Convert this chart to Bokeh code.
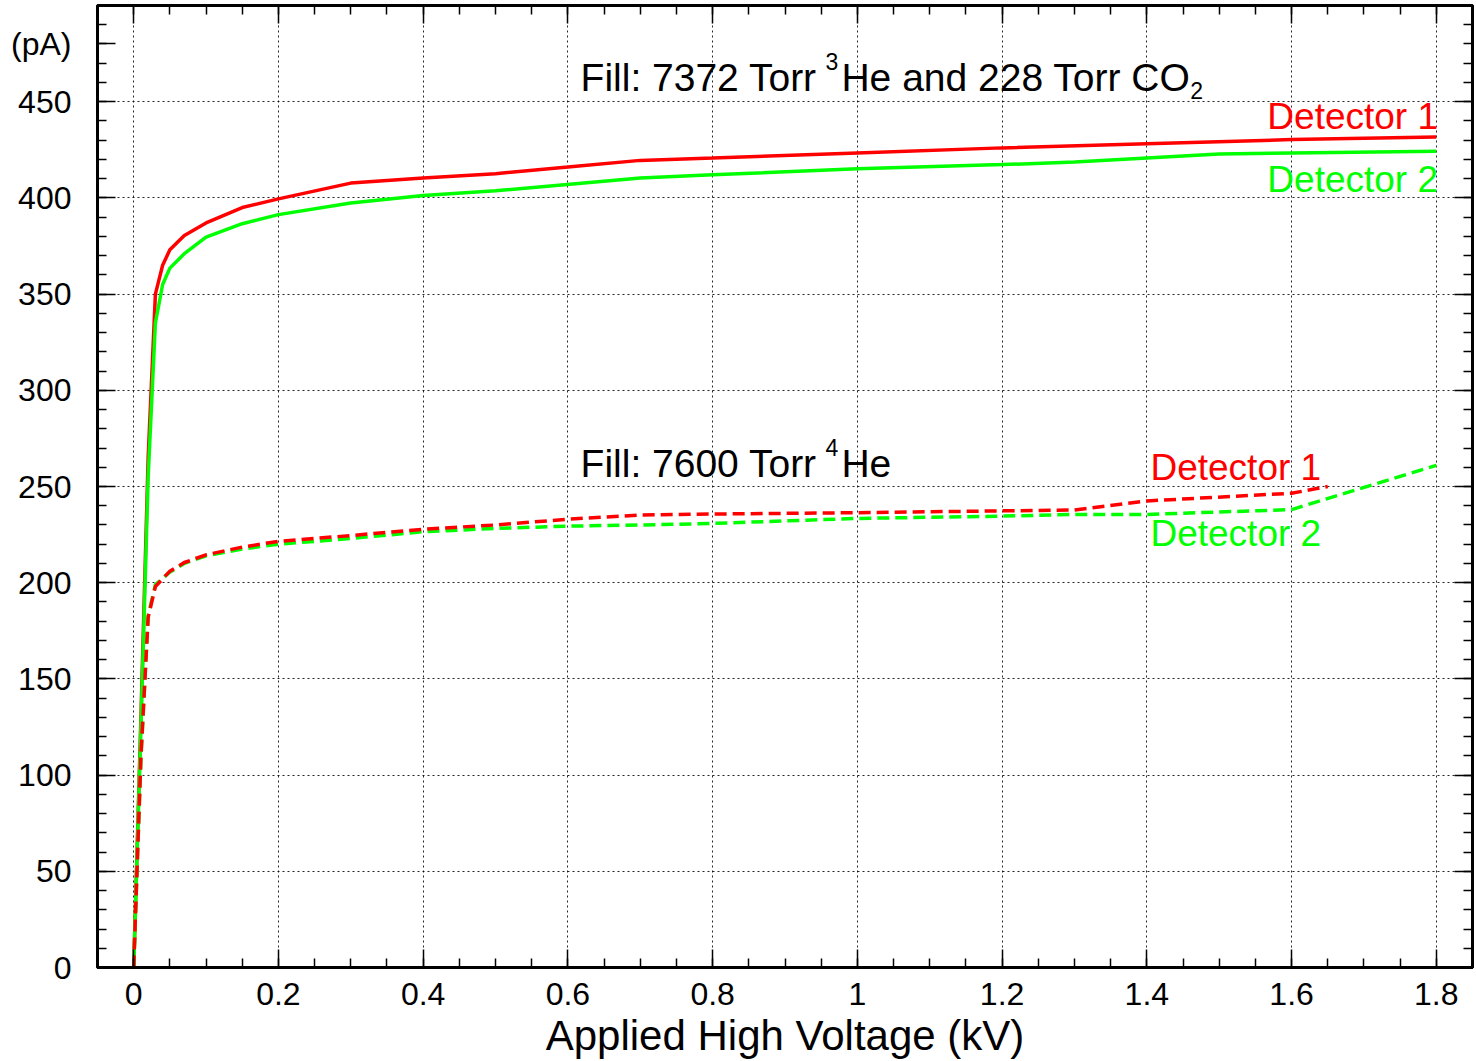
from bokeh.plotting import figure
from bokeh.models import (LinearAxis, FixedTicker, NumeralTickFormatter, Range1d,
                          Label, CustomJSTickFormatter)
from bokeh.embed import file_html
from bokeh.resources import INLINE

# ---------------- data ----------------
# Fill: 7372 Torr 3He + 228 Torr CO2
he3_det1_kv = [0, 0.01, 0.02, 0.03, 0.04, 0.05, 0.07, 0.1, 0.15, 0.2, 0.3, 0.4, 0.5,
               0.6, 0.7, 0.8, 1.0, 1.2, 1.4, 1.6, 1.8]
he3_det1_pa = [0, 130, 265, 350, 365, 373, 380.5, 387, 395, 399.5, 407.7, 410.3, 412.6,
               416, 419.5, 420.7, 423.3, 426, 428.2, 430.3, 431.6]

he3_det2_kv = [0, 0.01, 0.02, 0.03, 0.04, 0.05, 0.07, 0.1, 0.15, 0.2, 0.3, 0.4, 0.5,
               0.7, 0.8, 1.0, 1.2, 1.3, 1.5, 1.6, 1.8]
he3_det2_pa = [0, 125, 255, 335, 355, 363.5, 371, 379.6, 386.6, 391.3, 397.3, 401.2, 403.7,
               410.3, 412, 415.2, 417.3, 418.6, 422.8, 423.3, 424.2]

# Fill: 7600 Torr 4He
he4_det1_kv = [0, 0.01, 0.02, 0.03, 0.05, 0.07, 0.1, 0.15, 0.2, 0.3, 0.4, 0.5, 0.6, 0.7,
               0.8, 1.0, 1.3, 1.4, 1.6, 1.65]
he4_det1_pa = [0, 110, 182, 198, 206, 210.5, 214.5, 218.5, 221.5, 224.5, 227.8, 230, 233, 235.2,
               235.7, 236.4, 237.8, 242.5, 246.5, 250]

he4_det2_kv = [0, 0.01, 0.02, 0.03, 0.05, 0.07, 0.1, 0.15, 0.2, 0.3, 0.4, 0.5, 0.6, 0.7,
               0.8, 1.0, 1.2, 1.3, 1.4, 1.6, 1.8]
he4_det2_pa = [0, 108, 183, 199, 205.5, 210, 214, 217.5, 220, 223, 226.5, 228.2, 229.4, 230,
               230.8, 233.4, 234.6, 235.5, 235.5, 238, 261]

x_tick_values = [0, 0.2, 0.4, 0.6, 0.8, 1.0, 1.2, 1.4, 1.6, 1.8]
y_tick_values = [0, 50, 100, 150, 200, 250, 300, 350, 400, 450]
x_title = "Applied High Voltage (kV)"
y_title = "(pA)"
y_title_at = 480

RED = "#ff0000"
GREEN = "#00ff00"
FONT = "Liberation Sans"

# ---------------- figure ----------------
p = figure(width=1476, height=1061, x_range=Range1d(-0.05, 1.85), y_range=Range1d(0, 500),
           output_backend="svg", toolbar_location=None,
           min_border_left=97, min_border_right=4, min_border_top=5, min_border_bottom=94)
p.background_fill_color = "white"
p.border_fill_color = "white"
p.outline_line_color = "black"
p.outline_line_width = 3

x_minor = [round(-0.05 + 0.05 * i, 2) for i in range(39)]
y_minor = list(range(0, 501, 10))
xticker = FixedTicker(ticks=x_tick_values, minor_ticks=x_minor)
yticker = FixedTicker(ticks=y_tick_values, minor_ticks=y_minor)


def style_axis(ax):
    ax.axis_line_width = 3
    ax.axis_line_color = "black"
    ax.major_tick_in = 18
    ax.major_tick_out = 0
    ax.minor_tick_in = 9
    ax.minor_tick_out = 0
    ax.major_tick_line_width = 1.5
    ax.minor_tick_line_width = 1.5
    ax.major_tick_line_color = "black"
    ax.minor_tick_line_color = "black"
    ax.major_label_text_font = FONT
    ax.major_label_text_font_size = "32px"
    ax.major_label_text_color = "black"


xa = p.xaxis[0]
xa.ticker = xticker
xa.formatter = NumeralTickFormatter(format="0.[0]")
style_axis(xa)
xa.major_label_standoff = 15
xa.axis_label = x_title
xa.axis_label_text_font = FONT
xa.axis_label_text_font_size = "42px"
xa.axis_label_text_font_style = "normal"
xa.axis_label_text_color = "black"
xa.axis_label_standoff = 4

ya = p.yaxis[0]
ya.ticker = FixedTicker(ticks=y_tick_values + [y_title_at], minor_ticks=y_minor)
ya.major_label_overrides = {y_title_at: y_title}
style_axis(ya)
ya.major_label_standoff = 26

blank = CustomJSTickFormatter(code="return ''")
top = LinearAxis(ticker=xticker, formatter=blank, major_label_standoff=0)
style_axis(top)
top.major_label_text_font_size = "0px"
right = LinearAxis(ticker=yticker, formatter=blank, major_label_standoff=0)
style_axis(right)
right.major_label_text_font_size = "0px"
p.add_layout(top, "above")
p.add_layout(right, "right")

p.xgrid.ticker = xticker
p.ygrid.ticker = yticker
for g in (p.xgrid[0], p.ygrid[0]):
    g.grid_line_color = "black"
    g.grid_line_width = 1
    g.grid_line_dash = "2 3"
    g.grid_line_alpha = 0.85

# ---------------- curves ----------------
p.line(he3_det1_kv, he3_det1_pa, line_color=RED, line_width=3.5)
p.line(he3_det2_kv, he3_det2_pa, line_color=GREEN, line_width=3.5)
p.line(he4_det2_kv, he4_det2_pa, line_color=GREEN, line_width=3.5, line_dash="12 6")
p.line(he4_det1_kv, he4_det1_pa, line_color=RED, line_width=3.5, line_dash="12 6")


# ---------------- annotations ----------------
def lab(x, y, text, color="black", size="37px", align="left"):
    p.add_layout(Label(x=x, y=y, text=text, text_color=color, text_font=FONT,
                       text_font_size=size, text_align=align,
                       text_baseline="alphabetic"))


# Fill: 7372 Torr ^3He and 228 Torr CO_2
lab(0.6175, 462.6, "Fill: 7372 Torr", size="39px")
lab(0.956, 471.0, "3", size="23px")
lab(0.978, 462.6, "He and 228 Torr CO", size="39px")
lab(1.460, 456.0, "2", size="23px")

# Fill: 7600 Torr ^4He
lab(0.6175, 261.7, "Fill: 7600 Torr", size="39px")
lab(0.956, 270.3, "4", size="23px")
lab(0.978, 261.7, "He", size="39px")

# detector labels
lab(1.5665, 442.3, "Detector 1", color=RED)
lab(1.5665, 409.5, "Detector 2", color=GREEN)
lab(1.405, 260.0, "Detector 1", color=RED)
lab(1.405, 225.6, "Detector 2", color=GREEN)

open("out.html", "w").write(file_html(p, INLINE))
